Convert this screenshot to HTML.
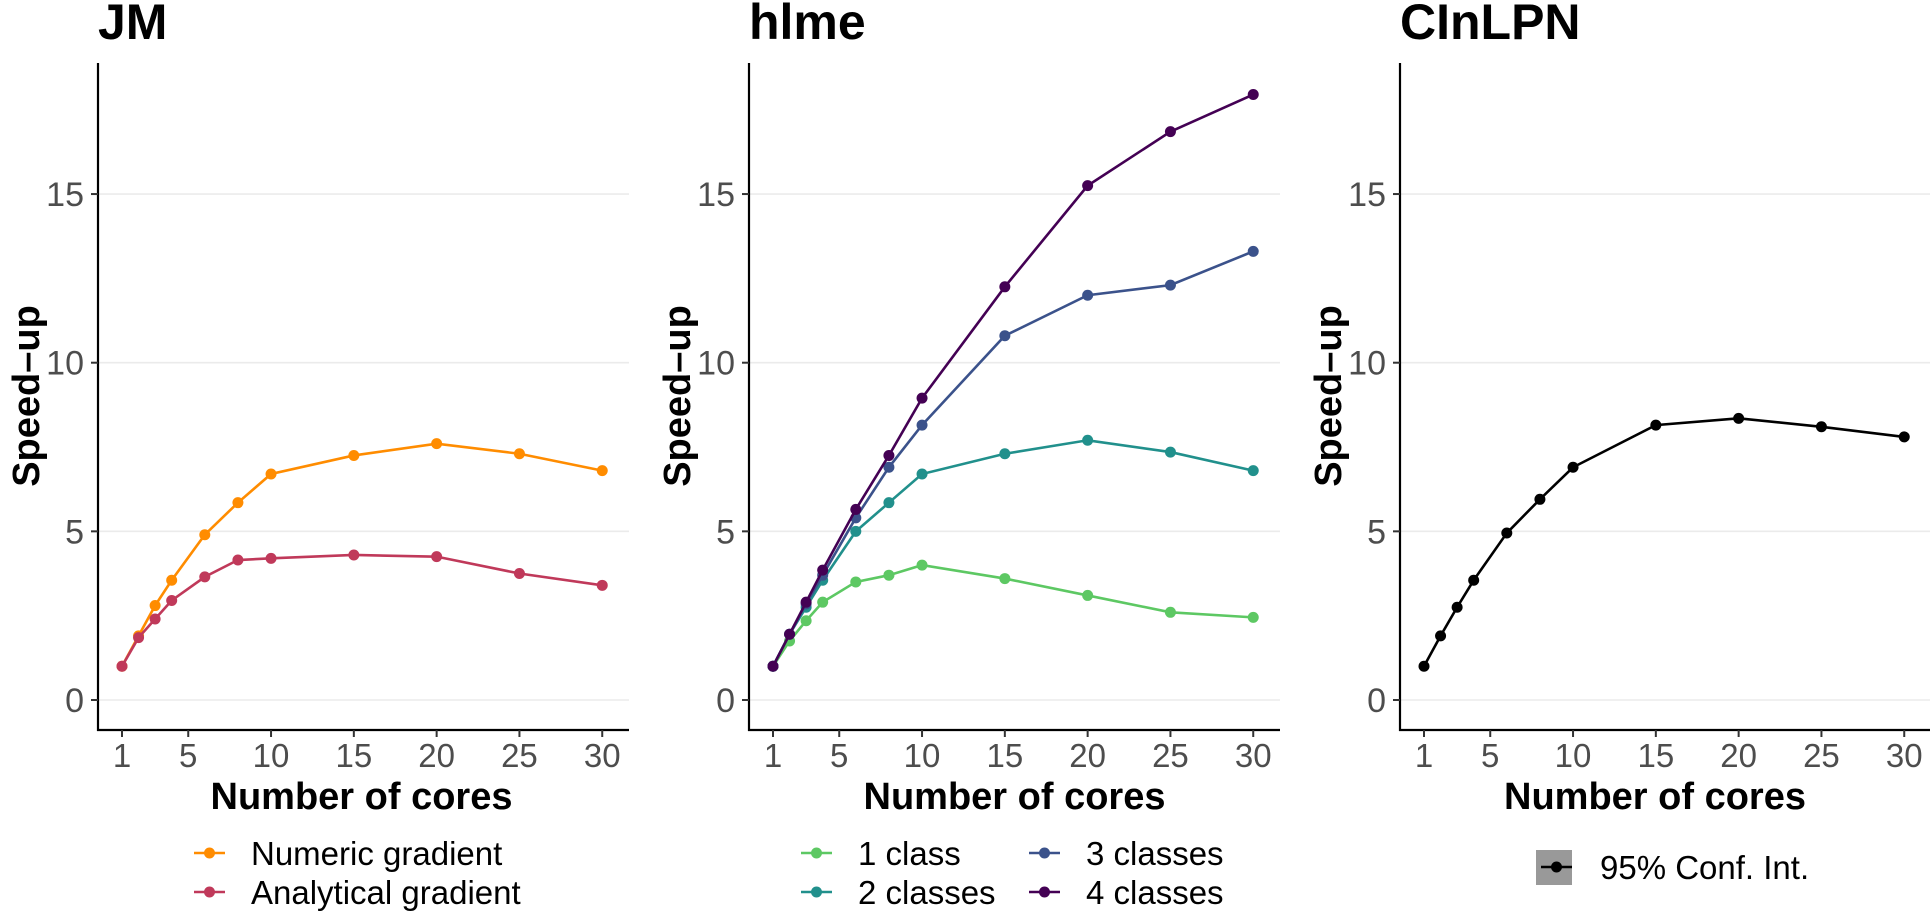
<!DOCTYPE html>
<html><head><meta charset="utf-8"><style>
html,body{margin:0;padding:0;background:#fff;}
svg{display:block;font-family:"Liberation Sans",Arial,sans-serif;}
</style></head><body>
<svg id="chart" width="1930" height="915" viewBox="0 0 1930 915" xmlns="http://www.w3.org/2000/svg"></svg>
<script>
const cores = [1,2,3,4,6,8,10,15,20,25,30];
const xTicks = [1,5,10,15,20,25,30];
const yTicks = [0,5,10,15];
const jmNumeric = [1,1.9,2.8,3.55,4.9,5.85,6.7,7.25,7.6,7.3,6.8];
const jmAnalytical = [1,1.85,2.4,2.95,3.65,4.15,4.2,4.3,4.25,3.75,3.4];
const hlme1 = [1,1.75,2.35,2.9,3.5,3.7,4.0,3.6,3.1,2.6,2.45];
const hlme2 = [1,1.95,2.75,3.55,5.0,5.85,6.7,7.3,7.7,7.35,6.8];
const hlme3 = [1,1.95,2.85,3.7,5.4,6.9,8.15,10.8,12.0,12.3,13.3];
const hlme4 = [1,1.95,2.9,3.85,5.65,7.25,8.95,12.25,15.25,16.85,17.95];
const cinlpn = [1,1.9,2.75,3.55,4.95,5.95,6.9,8.15,8.35,8.1,7.8];

const NS="http://www.w3.org/2000/svg";
const svg=document.getElementById('chart');
function mk(tag,attrs,parent,text){const e=document.createElementNS(NS,tag);for(const k in attrs)e.setAttribute(k,attrs[k]);if(text!==undefined)e.textContent=text;(parent||svg).appendChild(e);return e;}

const panels=[
 {off:0,title:'JM',name:'jm',series:[{d:jmNumeric,c:'#FF8C00',n:'Numeric gradient'},{d:jmAnalytical,c:'#C0395A',n:'Analytical gradient'}]},
 {off:651,title:'hlme',name:'hlme',series:[{d:hlme1,c:'#5DC863',n:'1 class'},{d:hlme2,c:'#21908C',n:'2 classes'},{d:hlme3,c:'#3B528B',n:'3 classes'},{d:hlme4,c:'#440154',n:'4 classes'}]},
 {off:1302,title:'CInLPN',name:'cinlpn',series:[{d:cinlpn,c:'#000000',n:'95% Conf. Int.'}]}
];

panels.forEach((p,pi)=>{
 const g=mk('g',{});
 
 
 const ax=98+p.off;
 const X=v=>122+p.off+(v-1)*16.56;
 const Y=v=>700-v*33.73;
 const right=Math.min(ax+531,1930);
 // gridlines
 yTicks.forEach(t=>{
  const l=mk('line',{x1:ax,x2:right,y1:Y(t),y2:Y(t),stroke:'#ebebeb','stroke-width':1.6},g);
  
  
 });
 // axes
 const ya=mk('line',{x1:ax,x2:ax,y1:63,y2:731,stroke:'#000','stroke-width':2.2},g);
 
 
 const xa=mk('line',{x1:ax-1,x2:right,y1:730,y2:730,stroke:'#000','stroke-width':2.2},g);
 
 
 yTicks.forEach(t=>{
  mk('line',{x1:ax-7,x2:ax,y1:Y(t),y2:Y(t),stroke:'#333','stroke-width':2},g);
  const tl=mk('text',{x:ax-14,y:Y(t)+12,'text-anchor':'end','font-size':34,fill:'#4d4d4d'},g,String(t));
  
  
 });
 xTicks.forEach(t=>{
  mk('line',{x1:X(t),x2:X(t),y1:730,y2:737,stroke:'#333','stroke-width':2},g);
  const tl=mk('text',{x:X(t),y:767,'text-anchor':'middle','font-size':33,fill:'#4d4d4d'},g,String(t));
  
  
 });
 const tt=mk('text',{x:ax,y:39,'font-size':50,'font-weight':'bold',fill:'#000'},g,p.title);
 
 
 const xt=mk('text',{x:ax+(right-ax)/2+ (pi==2?-10:0)+(pi==0?-2:0),y:809,'text-anchor':'middle','font-size':38,'font-weight':'bold',fill:'#000'},g,'Number of cores');
 
 
 const yt=mk('text',{x:0,y:0,'text-anchor':'middle','font-size':38,'font-weight':'bold',fill:'#000',transform:`translate(${39+p.off},396) rotate(-90)`},g,'Speed\u2013up');
 
 
 // series
 p.series.forEach(s=>{
  const pts=s.d.map((v,i)=>X(cores[i])+','+Y(v)).join(' ');
  const ln=mk('polyline',{points:pts,fill:'none',stroke:s.c,'stroke-width':2.6},g);
  
  
  s.d.forEach((v,i)=>{
   const c=mk('circle',{cx:X(cores[i]),cy:Y(v),r:5.5,fill:s.c},g);
   
   
  });
 });
});

// legends
function legendEntry(x,y,color,label,box){
 const g=mk('g',{});
 
 
 if(box) mk('rect',{x:x-5,y:y-17,width:36,height:35,fill:'#999'},g);
 mk('line',{x1:x,x2:x+31,y1:y,y2:y,stroke:color,'stroke-width':2.6},g);
 mk('circle',{cx:x+15.5,cy:y,r:5.5,fill:color},g);
 mk('text',{x:x+(box?59:57),y:y+12,'font-size':33,fill:'#000'},g,label);
}
legendEntry(194,853,'#FF8C00','Numeric gradient');
legendEntry(194,892,'#C0395A','Analytical gradient');
legendEntry(801,853,'#5DC863','1 class');
legendEntry(801,892,'#21908C','2 classes');
legendEntry(1029,853,'#3B528B','3 classes');
legendEntry(1029,892,'#440154','4 classes');
legendEntry(1541,867,'#000000','95% Conf. Int.',true);
</script>
</body></html>
